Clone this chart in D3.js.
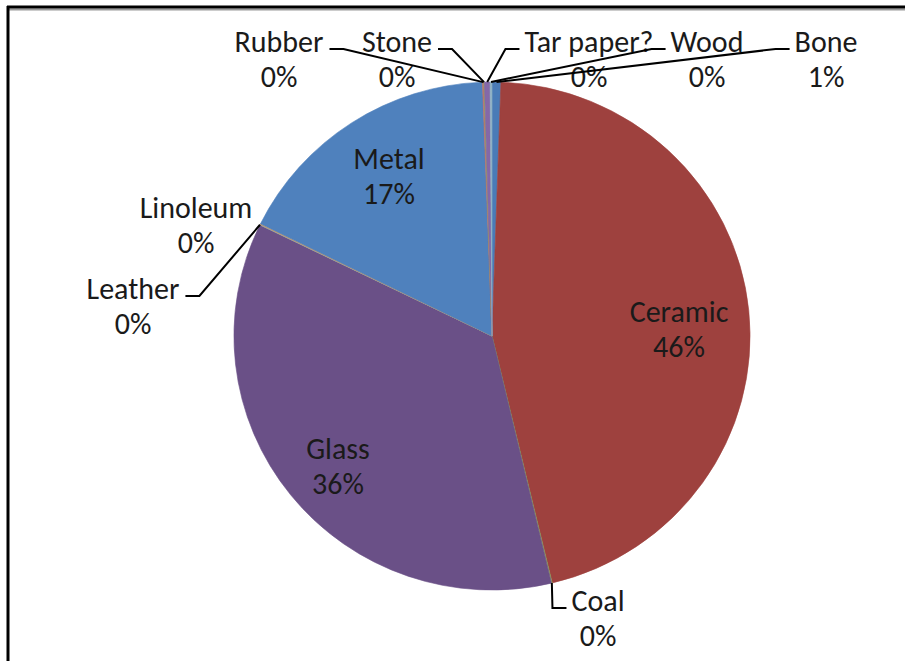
<!DOCTYPE html>
<html>
<head>
<meta charset="utf-8">
<script src="https://cdn.jsdelivr.net/npm/d3@7"></script>
<style>
  html, body { margin: 0; padding: 0; background: #fff; }
  svg { display: block; }
  text { font-family: Carlito, Calibri, Lato, "Open Sans", sans-serif; fill: #1a1a1a; }
</style>
</head>
<body>
<svg id="chart" width="905" height="661"></svg>
<script>
// Material categories in pie order (clockwise from 12 o'clock)
const categories = ["Bone", "Ceramic", "Coal", "Glass", "Leather", "Linoleum", "Metal", "Rubber", "Stone", "Tar paper?", "Wood"];
// Share of finds per category (percent)
const shares = [0.55, 45.7, 0.05, 35.9, 0.03, 0.05, 17.13, 0.08, 0.04, 0.35, 0.12];
// Slice fills
const sliceColors = ["#4a7bb7", "#9e413e", "#8aa35a", "#6a5087", "#7fa9b8", "#d99a5e", "#4f81bd", "#c0706d", "#8aa35a", "#8468a8", "#8fb1c4"];

// Label placement (centre of first line) and which side the leader enters from
const labelLayout = {
  "Bone":       { x: 826, y: 41,  side: "left" },
  "Ceramic":    { x: 679, y: 311, inside: true },
  "Coal":       { x: 598, y: 600, side: "left" },
  "Glass":      { x: 338, y: 448, inside: true },
  "Leather":    { x: 133, y: 288, side: "right" },
  "Linoleum":   { x: 196, y: 207, side: "none" },
  "Metal":      { x: 389, y: 158, inside: true },
  "Rubber":     { x: 279, y: 41,  side: "right" },
  "Stone":      { x: 397, y: 41,  side: "right" },
  "Tar paper?": { x: 589, y: 41,  side: "left" },
  "Wood":       { x: 707, y: 41,  side: "left" }
};

const W = 905, H = 661;
const cx = 492, cy = 336, R = 254, sx = 1.016;
const lineGap = 35, fontSize = 30;

const svg = d3.select("#chart");

// chart frame: top and left edges with a soft shadow line
svg.append("line").attr("x1", 7).attr("x2", W).attr("y1", 9.5).attr("y2", 9.5)
  .attr("stroke", "#9a9a9a").attr("stroke-width", 2);
svg.append("line").attr("x1", 7).attr("x2", W).attr("y1", 7).attr("y2", 7)
  .attr("stroke", "#000").attr("stroke-width", 3);
svg.append("line").attr("x1", 8).attr("x2", 8).attr("y1", 6).attr("y2", H)
  .attr("stroke", "#000").attr("stroke-width", 3);

const data = categories.map((c, i) => ({ name: c, value: shares[i], color: sliceColors[i] }));
const total = d3.sum(data, d => d.value);
const pct = d3.format(".0%");

const pie = d3.pie().sort(null).value(d => d.value);
const arcs = pie(data);
const arc = d3.arc().innerRadius(0).outerRadius(R);

const g = svg.append("g").attr("transform", `translate(${cx},${cy}) scale(${sx},1)`);

g.selectAll("path.slice")
  .data(arcs)
  .join("path")
  .attr("class", "slice")
  .attr("d", arc)
  .attr("fill", d => d.data.color)
  .attr("stroke", d => d.data.color)
  .attr("stroke-width", 0.6);

// labels
const labels = svg.append("g");
const leaders = svg.append("g");

arcs.forEach(a => {
  const lay = labelLayout[a.data.name];
  const t = labels.append("text")
    .attr("text-anchor", "middle")
    .attr("font-size", fontSize);
  t.append("tspan").attr("x", lay.x).attr("y", lay.y).attr("dy", "0.35em").text(a.data.name);
  t.append("tspan").attr("x", lay.x).attr("y", lay.y + lineGap).attr("dy", "0.35em")
    .text(pct(a.data.value / total));

  if (lay.inside || lay.side === "none") return;

  // leader from slice edge to the first line of the label
  const first = t.select("tspan").node().getBBox();
  const mid = (a.startAngle + a.endAngle) / 2;
  const px = cx + sx * R * Math.sin(mid), py = cy - R * Math.cos(mid);
  const ly = lay.y + 8;
  let endX, elbowX;
  if (lay.side === "left") { endX = first.x - 5; elbowX = endX - 14; }
  else { endX = first.x + first.width + 6; elbowX = endX + 14; }
  leaders.append("polyline")
    .attr("points", [[px, py], [elbowX, ly], [endX, ly]].map(p => p.join(",")).join(" "))
    .attr("fill", "none")
    .attr("stroke", "#000")
    .attr("stroke-width", 2);
});
</script>
</body>
</html>
